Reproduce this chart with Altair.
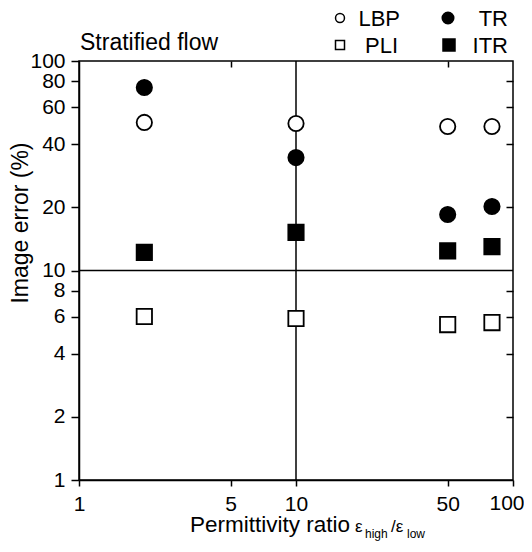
import altair as alt
import pandas as pd

ratios = [2, 10, 50, 80]
series = ["LBP", "TR", "PLI", "ITR"]
lbp = [50.9, 50.3, 48.7, 48.7]
tr = [74.7, 34.6, 18.5, 20.2]
pli = [6.03, 5.90, 5.52, 5.64]
itr = [12.2, 15.2, 12.4, 13.0]
x_ticks = [1, 5, 10, 50, 100]
y_ticks = [1, 2, 4, 6, 8, 10, 20, 40, 60, 80, 100]
top_ticks = [5, 50]
right_ticks = [2, 4, 6, 8, 20, 40, 60, 80]
ref_x = [10]
ref_y = [10]

rows = []
for name, vals in zip(series, [lbp, tr, pli, itr]):
    for r, v in zip(ratios, vals):
        rows.append({"ratio": r, "error": v, "series": name})
df = pd.DataFrame(rows)

FONT = "Liberation Sans"
W, H = 434, 419
xscale = alt.Scale(type="log", domain=[1, 100], nice=False)
yscale = alt.Scale(type="log", domain=[1, 100], nice=False)

common_axis = dict(title=None, grid=False, tickColor="black", tickWidth=1.5,
                   domainColor="black", domainWidth=1.5, labelFont=FONT,
                   labelFontSize=21, labelColor="black", labelOverlap=False,
                   labelFlush=False, format="d")

points = alt.Chart(df).mark_point(filled=True, size=235, stroke="black",
                                  strokeWidth=1.8, opacity=1).encode(
    x=alt.X("ratio:Q", scale=xscale,
            axis=alt.Axis(orient="bottom", values=x_ticks, tickSize=6,
                          labelPadding=7,
                          labelExpr="datum.value == 100 ? '' : datum.label",
                          **common_axis)),
    y=alt.Y("error:Q", scale=yscale,
            axis=alt.Axis(orient="left", values=y_ticks, tickSize=8,
                          labelPadding=6, **common_axis)),
    shape=alt.Shape("series:N", scale=alt.Scale(domain=series,
                    range=["circle", "circle", "square", "square"]), legend=None),
    fill=alt.Fill("series:N", scale=alt.Scale(domain=series,
                  range=["white", "black", "white", "black"]), legend=None),
)

vline = alt.Chart(pd.DataFrame({"ratio": ref_x})).mark_rule(
    color="black", strokeWidth=1.5).encode(
    x=alt.X("ratio:Q", scale=xscale,
            axis=alt.Axis(orient="top", values=top_ticks, labels=False,
                          domain=False, title=None, tickSize=6, offset=-6,
                          tickColor="black", tickWidth=1.5, grid=False))
)
hline = alt.Chart(pd.DataFrame({"error": ref_y})).mark_rule(
    color="black", strokeWidth=1.5).encode(
    y=alt.Y("error:Q", scale=yscale,
            axis=alt.Axis(orient="right", values=right_ticks, labels=False,
                          domain=False, title=None, tickSize=7, offset=-7,
                          tickColor="black", tickWidth=1.5, grid=False))
)

dummy = pd.DataFrame({"a": [0]})


def text_layer(txt, x, y, size, align="left", angle=0, baseline="alphabetic"):
    return alt.Chart(dummy).mark_text(
        text=txt, font=FONT, fontSize=size, align=align, baseline=baseline,
        color="black", angle=angle).encode(x=alt.value(x), y=alt.value(y))


def sym_layer(shape, filled, size, x, y):
    return alt.Chart(dummy).mark_point(
        shape=shape, filled=True, fill="black" if filled else "white",
        stroke="black", strokeWidth=1.5, size=size, opacity=1).encode(
        x=alt.value(x), y=alt.value(y))


legend_layers = [
    sym_layer("circle", False, 80, 261, -43),
    text_layer("LBP", 321, -35, 22, align="right"),
    sym_layer("circle", True, 133, 369, -43),
    text_layer("TR", 429, -35, 22, align="right"),
    sym_layer("square", False, 81, 261, -16),
    text_layer("PLI", 319, -8, 22, align="right"),
    sym_layer("square", True, 144, 370, -16),
    text_layer("ITR", 429, -8, 22, align="right"),
]

title_layers = [
    text_layer("100", W - 6, H + 13, 21, align="center", baseline="top"),
    text_layer("Stratified flow", 1, -11, 23),
    text_layer("Image error (%)", -51, 162, 23, align="center", angle=270),
    text_layer("Permittivity ratio", 111, 471, 22.5),
    text_layer("ε", 276, 471, 17),
    text_layer("high", 286, 477, 12),
    text_layer("/ε", 312, 471, 17),
    text_layer("low", 328, 477, 12),
]

chart = alt.layer(vline, hline, points, *legend_layers, *title_layers).resolve_axis(
    x="independent", y="independent"
).properties(
    width=W, height=H,
    autosize=alt.AutoSizeParams(type="none"),
    padding={"left": 71, "top": 53, "right": 11, "bottom": 64},
).configure_view(stroke="black", strokeWidth=1.5)

chart.save("out.html", embed_options={"renderer": "svg", "actions": False})
